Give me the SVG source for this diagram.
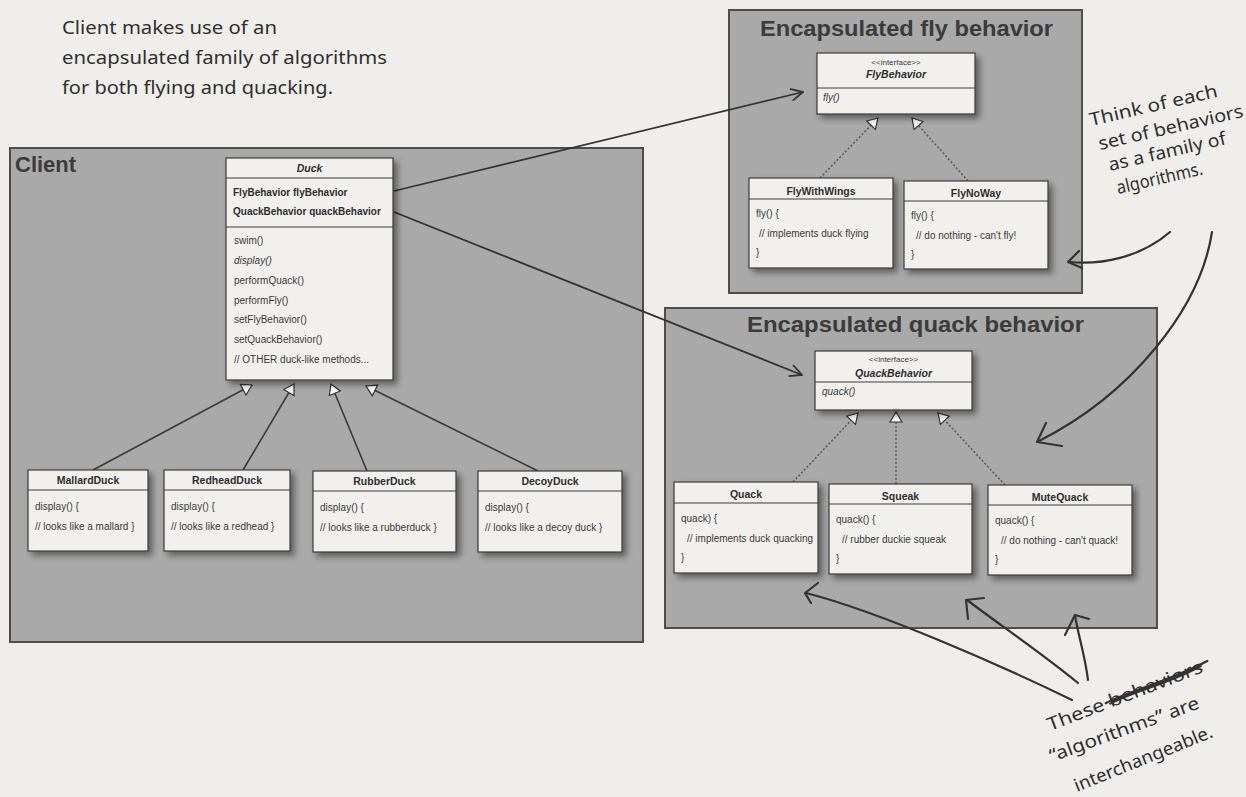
<svg xmlns="http://www.w3.org/2000/svg" width="1246" height="797" viewBox="0 0 1246 797">
<defs>
<style>
.container{fill:#a9a9a9;stroke:#4d4d4d;stroke-width:2}
.cls{fill:#f1f0ed;stroke:#3a3a3a;stroke-width:1.2;filter:url(#shadow)}
.div{stroke:#3a3a3a;stroke-width:1.2}
.ctitle{font-family:"Liberation Sans",Arial,sans-serif;font-weight:bold;font-size:22px;fill:#3b3b3b}
.name{font-family:"Liberation Sans",Arial,sans-serif;font-weight:bold;font-size:10.5px;fill:#2e2e2e;text-anchor:middle}
.attr{font-family:"Liberation Sans",Arial,sans-serif;font-weight:bold;font-size:10px;fill:#2e2e2e}
.body{font-family:"Liberation Sans",Arial,sans-serif;font-size:10px;fill:#3a3a3a}
.stereo{font-family:"Liberation Sans",Arial,sans-serif;font-size:8px;fill:#3a3a3a;text-anchor:middle}
.hand{font-family:"Noto Sans",sans-serif;font-size:18px;fill:#2e2e2e}
.assoc{stroke:#333;stroke-width:1.8;fill:none;marker-end:url(#openArrow)}
.inh{stroke:#3a3a3a;stroke-width:1.6;fill:none;marker-end:url(#hollowTri)}
.real{stroke:#555;stroke-width:1.5;stroke-dasharray:2 2;fill:none;marker-end:url(#hollowTri)}
.pen{stroke:#333;stroke-width:2.2;fill:none;stroke-linecap:round;stroke-linejoin:round}
</style>
<filter id="shadow" x="-20%" y="-20%" width="150%" height="150%">
<feDropShadow dx="4" dy="4" stdDeviation="3" flood-color="#000" flood-opacity="0.45"/>
</filter>
<marker id="openArrow" viewBox="0 0 14 14" markerWidth="14" markerHeight="14" refX="13" refY="7" orient="auto" markerUnits="userSpaceOnUse">
<path d="M1,1 L13,7 L1,13" fill="none" stroke="#333" stroke-width="1.8" stroke-dasharray="none"/>
</marker>
<marker id="hollowTri" viewBox="0 0 12 14" markerWidth="12" markerHeight="14" refX="11" refY="7" orient="auto" markerUnits="userSpaceOnUse">
<path d="M1,1 L11,7 L1,13 Z" fill="#fafafa" stroke="#333" stroke-width="1.2" stroke-dasharray="none"/>
</marker>
</defs>

<rect x="0" y="0" width="1246" height="797" fill="#f0eeeb"/>

<g id="note-client">
<text class="hand" x="62" y="34" textLength="215" lengthAdjust="spacingAndGlyphs">Client makes use of an</text>
<text class="hand" x="62" y="64" textLength="325" lengthAdjust="spacingAndGlyphs">encapsulated family of algorithms</text>
<text class="hand" x="62" y="94" textLength="271" lengthAdjust="spacingAndGlyphs">for both flying and quacking.</text>
</g>

<g id="client">
<rect class="container" x="10" y="148" width="633" height="494"/>
<text class="ctitle" x="15" y="172" font-size="23">Client</text>
</g>

<g id="fly-family">
<rect class="container" x="729" y="10" width="353" height="283"/>
<text class="ctitle" x="760" y="36" textLength="293" lengthAdjust="spacingAndGlyphs">Encapsulated fly behavior</text>
</g>

<g id="quack-family">
<rect class="container" x="665" y="308" width="492" height="320"/>
<text class="ctitle" x="747" y="332" textLength="337" lengthAdjust="spacingAndGlyphs">Encapsulated quack behavior</text>
</g>

<g id="connectors">
<line class="assoc" x1="394" y1="191" x2="803" y2="92"/>
<line class="assoc" x1="394" y1="212" x2="802" y2="375"/>
<line class="inh" x1="93" y1="470" x2="252" y2="385"/>
<line class="inh" x1="243" y1="470" x2="294" y2="384"/>
<line class="inh" x1="367" y1="471" x2="331" y2="384"/>
<line class="inh" x1="538" y1="471" x2="366" y2="386"/>
<line class="real" x1="820" y1="178" x2="878" y2="118"/>
<line class="real" x1="968" y1="181" x2="912" y2="118"/>
<line class="real" x1="793" y1="482" x2="858" y2="413"/>
<line class="real" x1="896" y1="484" x2="896" y2="412"/>
<line class="real" x1="1005" y1="485" x2="938" y2="413"/>
</g>

<g id="duck">
<rect class="cls" x="226" y="158" width="167" height="222"/>
<line class="div" x1="226" y1="178" x2="393" y2="178"/>
<line class="div" x1="226" y1="227" x2="393" y2="227"/>
<text class="name" x="309.5" y="172" font-style="italic">Duck</text>
<text class="attr" x="233" y="196">FlyBehavior flyBehavior</text>
<text class="attr" x="233" y="215">QuackBehavior quackBehavior</text>
<text class="body" x="234" y="244">swim()</text>
<text class="body" x="234" y="264" font-style="italic">display()</text>
<text class="body" x="234" y="284">performQuack()</text>
<text class="body" x="234" y="304">performFly()</text>
<text class="body" x="234" y="323">setFlyBehavior()</text>
<text class="body" x="234" y="343">setQuackBehavior()</text>
<text class="body" x="234" y="363">// OTHER duck-like methods...</text>
</g>

<g id="mallard">
<rect class="cls" x="28" y="470" width="120" height="81"/>
<line class="div" x1="28" y1="490" x2="148" y2="490"/>
<text class="name" x="88" y="484">MallardDuck</text>
<text class="body" x="35" y="510">display() {</text>
<text class="body" x="35" y="530" font-size="9.5">// looks like a mallard }</text>
</g>

<g id="redhead">
<rect class="cls" x="164" y="470" width="126" height="81"/>
<line class="div" x1="164" y1="490" x2="290" y2="490"/>
<text class="name" x="227" y="484">RedheadDuck</text>
<text class="body" x="171" y="510">display() {</text>
<text class="body" x="171" y="530" font-size="9.5">// looks like a redhead }</text>
</g>

<g id="rubber">
<rect class="cls" x="313" y="471" width="143" height="81"/>
<line class="div" x1="313" y1="491" x2="456" y2="491"/>
<text class="name" x="384.5" y="485">RubberDuck</text>
<text class="body" x="320" y="511">display() {</text>
<text class="body" x="320" y="531" font-size="9.5">// looks like a rubberduck }</text>
</g>

<g id="decoy">
<rect class="cls" x="478" y="471" width="144" height="81"/>
<line class="div" x1="478" y1="491" x2="622" y2="491"/>
<text class="name" x="550" y="485">DecoyDuck</text>
<text class="body" x="485" y="511">display() {</text>
<text class="body" x="485" y="531" font-size="9.5">// looks like a decoy duck }</text>
</g>

<g id="flybehavior">
<rect class="cls" x="817" y="53" width="158" height="61"/>
<line class="div" x1="817" y1="88" x2="975" y2="88"/>
<text class="stereo" x="896" y="65">&lt;&lt;interface&gt;&gt;</text>
<text class="name" x="896" y="78" font-style="italic">FlyBehavior</text>
<text class="body" x="823" y="101" font-style="italic">fly()</text>
</g>

<g id="flywithwings">
<rect class="cls" x="749" y="178" width="144" height="90"/>
<line class="div" x1="749" y1="199" x2="893" y2="199"/>
<text class="name" x="821" y="195">FlyWithWings</text>
<text class="body" x="756" y="217">fly() {</text>
<text class="body" x="759" y="237">// implements duck flying</text>
<text class="body" x="756" y="256">}</text>
</g>

<g id="flynoway">
<rect class="cls" x="904" y="181" width="144" height="88"/>
<line class="div" x1="904" y1="201" x2="1048" y2="201"/>
<text class="name" x="976" y="197">FlyNoWay</text>
<text class="body" x="911" y="219">fly() {</text>
<text class="body" x="916" y="239">// do nothing - can't fly!</text>
<text class="body" x="911" y="258">}</text>
</g>

<g id="quackbehavior">
<rect class="cls" x="815" y="351" width="157" height="59"/>
<line class="div" x1="815" y1="382" x2="972" y2="382"/>
<text class="stereo" x="893.5" y="362">&lt;&lt;interface&gt;&gt;</text>
<text class="name" x="893.5" y="377" font-style="italic">QuackBehavior</text>
<text class="body" x="822" y="395" font-style="italic">quack()</text>
</g>

<g id="quack">
<rect class="cls" x="674" y="482" width="144" height="91"/>
<line class="div" x1="674" y1="503" x2="818" y2="503"/>
<text class="name" x="746" y="498">Quack</text>
<text class="body" x="681" y="522">quack) {</text>
<text class="body" x="687" y="542">// implements duck quacking</text>
<text class="body" x="681" y="561">}</text>
</g>

<g id="squeak">
<rect class="cls" x="829" y="484" width="143" height="90"/>
<line class="div" x1="829" y1="504" x2="972" y2="504"/>
<text class="name" x="900.5" y="500">Squeak</text>
<text class="body" x="836" y="523">quack() {</text>
<text class="body" x="842" y="543">// rubber duckie squeak</text>
<text class="body" x="836" y="562">}</text>
</g>

<g id="mutequack">
<rect class="cls" x="988" y="485" width="144" height="90"/>
<line class="div" x1="988" y1="505" x2="1132" y2="505"/>
<text class="name" x="1060" y="501">MuteQuack</text>
<text class="body" x="995" y="524">quack() {</text>
<text class="body" x="1001" y="544">// do nothing - can't quack!</text>
<text class="body" x="995" y="563">}</text>
</g>

<g id="note-family">
<text class="hand" transform="translate(1091,126) rotate(-13)" textLength="131" lengthAdjust="spacingAndGlyphs">Think of each</text>
<text class="hand" transform="translate(1100,150) rotate(-13)" textLength="148" lengthAdjust="spacingAndGlyphs">set of behaviors</text>
<text class="hand" transform="translate(1110,171) rotate(-13)" textLength="120" lengthAdjust="spacingAndGlyphs">as a family of</text>
<text class="hand" transform="translate(1118,194) rotate(-13)" textLength="88" lengthAdjust="spacingAndGlyphs">algorithms.</text>
<path class="pen" d="M1170,232 C1140,258 1100,265 1070,262"/>
<path class="pen" d="M1079,251 L1068,262 L1082,268"/>
<path class="pen" d="M1212,232 C1200,310 1130,395 1039,441"/>
<path class="pen" d="M1046,423 L1037,442 L1062,446"/>
</g>

<g id="note-interchangeable">
<g transform="translate(1050,731) rotate(-21)">
<text class="hand" font-size="17" x="0" y="0" textLength="165" lengthAdjust="spacingAndGlyphs">These b<tspan text-decoration="line-through">ehaviors</tspan></text>
<path class="pen" d="M62,-6 C90,-9 130,-4 172,-9 M66,-4 C95,-7 125,-2 160,-6"/>
</g>
<text class="hand" font-size="17" transform="translate(1052,762) rotate(-20)" textLength="158" lengthAdjust="spacingAndGlyphs">“algorithms” are</text>
<text class="hand" font-size="17" transform="translate(1077,792) rotate(-22)" textLength="148" lengthAdjust="spacingAndGlyphs">interchangeable.</text>
<path class="pen" d="M1072,700 C1000,665 880,612 806,593"/>
<path class="pen" d="M818,583 L805,593 L811,603"/>
<path class="pen" d="M1078,683 C1040,652 1000,625 967,600"/>
<path class="pen" d="M984,598 L966,600 L968,619"/>
<path class="pen" d="M1088,680 C1085,655 1078,635 1075,615"/>
<path class="pen" d="M1065,635 L1075,615 L1089,619"/>
</g>
</svg>
